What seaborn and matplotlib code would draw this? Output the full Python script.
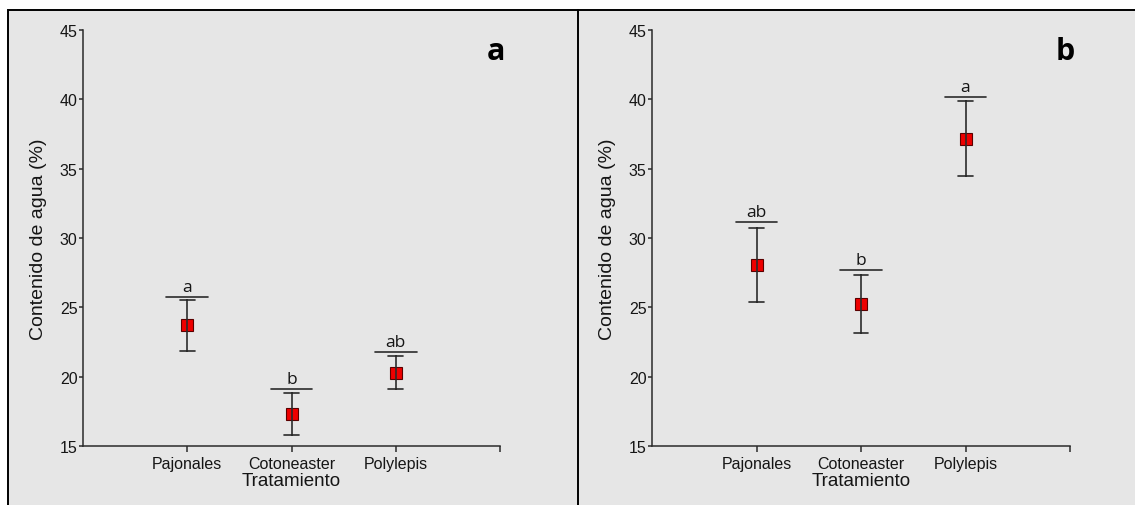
import numpy as np
import pandas as pd
import matplotlib
matplotlib.use("Agg")
import matplotlib.pyplot as plt
from matplotlib.patches import Rectangle
from matplotlib.lines import Line2D
import seaborn as sns

# Values (mean and standard error)
treatments = ["Pajonales", "Cotoneaster", "Polylepis"]
mean_a = [23.7, 17.3, 20.3]
err_a = [1.85, 1.5, 1.2]
mean_b = [28.05, 25.25, 37.15]
err_b = [2.7, 2.1, 2.7]
letters_a = ["a", "b", "ab"]
letters_b = ["ab", "b", "a"]
bar_a = [25.75, 19.1, 21.8]   # height of the significance line
bar_b = [31.15, 27.7, 40.15]
yticks = [15, 20, 25, 30, 35, 40, 45]

sns.set_style("ticks")
plt.rcParams["font.family"] = ["Liberation Sans", "DejaVu Sans"]
plt.rcParams["text.color"] = "#151515"
plt.rcParams["axes.labelcolor"] = "#151515"
plt.rcParams["xtick.labelcolor"] = "#151515"
plt.rcParams["ytick.labelcolor"] = "#151515"

bg = "#e6e6e6"
ink = "#2b2b2b"

fig = plt.figure(figsize=(11.35, 5.06), dpi=100)
fig.patch.set_facecolor("white")

# panel frame and divider
fig.add_artist(Rectangle((8 / 1135, -0.2), 1.2, 0.2 + 1 - 11 / 506,
                         transform=fig.transFigure, facecolor=bg,
                         edgecolor="black", lw=1.4, zorder=-5))
fig.add_artist(Line2D([578 / 1135, 578 / 1135], [0, 1 - 11 / 506],
                      transform=fig.transFigure, color="black", lw=1.4))


def make_frame(means, errs):
    rows = []
    for t, m, e in zip(treatments, means, errs):
        rows.append({"Tratamiento": t, "val": m - e})
        rows.append({"Tratamiento": t, "val": m + e})
    return pd.DataFrame(rows)


def draw_panel(ax, means, errs, letters, bars, tag):
    df = make_frame(means, errs)
    sns.pointplot(data=df, x="Tratamiento", y="val", order=treatments,
                  estimator="mean", errorbar=lambda v: (v.min(), v.max()),
                  capsize=0.14, color="#ee0000", markers="s",
                  linestyles="none", markersize=8, markeredgecolor="#5a0000",
                  markeredgewidth=0.8,
                  err_kws={"color": ink, "linewidth": 1.2}, ax=ax)
    for i, (lt, h) in enumerate(zip(letters, bars)):
        ax.plot([i - 0.2, i + 0.2], [h, h], color=ink, lw=1.2)
        ax.text(i, h + 0.15, lt, ha="center", va="bottom",
                fontsize=12.5, family="Open Sans")
    ax.set_facecolor("none")
    ax.set_xlim(-1, 3)
    ax.set_ylim(15, 45)
    ax.set_yticks(yticks)
    ax.set_xticks([0, 1, 2, 3], treatments + [""])
    ax.tick_params(axis="x", labelsize=11.5, length=4, width=1.1,
                   color=ink, pad=3)
    ax.tick_params(axis="y", labelsize=11.5, length=3, width=1.1,
                   color=ink, pad=1)
    sns.despine(ax=ax)
    for s in ["left", "bottom"]:
        ax.spines[s].set_color(ink)
        ax.spines[s].set_linewidth(1.1)
    ax.set_xlabel("Tratamiento", fontsize=13.5, labelpad=1)
    ax.set_ylabel("Contenido de agua (%)", fontsize=14, labelpad=9)
    ax.text(1.012, 0.95, tag, transform=ax.transAxes, ha="right", va="center",
            fontsize=22, fontweight="bold", family="Open Sans", color="black")


ax1 = fig.add_axes([83 / 1135, 1 - 447 / 506, 417 / 1135, 416 / 506])
ax2 = fig.add_axes([652 / 1135, 1 - 447 / 506, 418 / 1135, 416 / 506])
draw_panel(ax1, mean_a, err_a, letters_a, bar_a, "a")
draw_panel(ax2, mean_b, err_b, letters_b, bar_b, "b")

fig.savefig("out.png", dpi=100, facecolor="white")
